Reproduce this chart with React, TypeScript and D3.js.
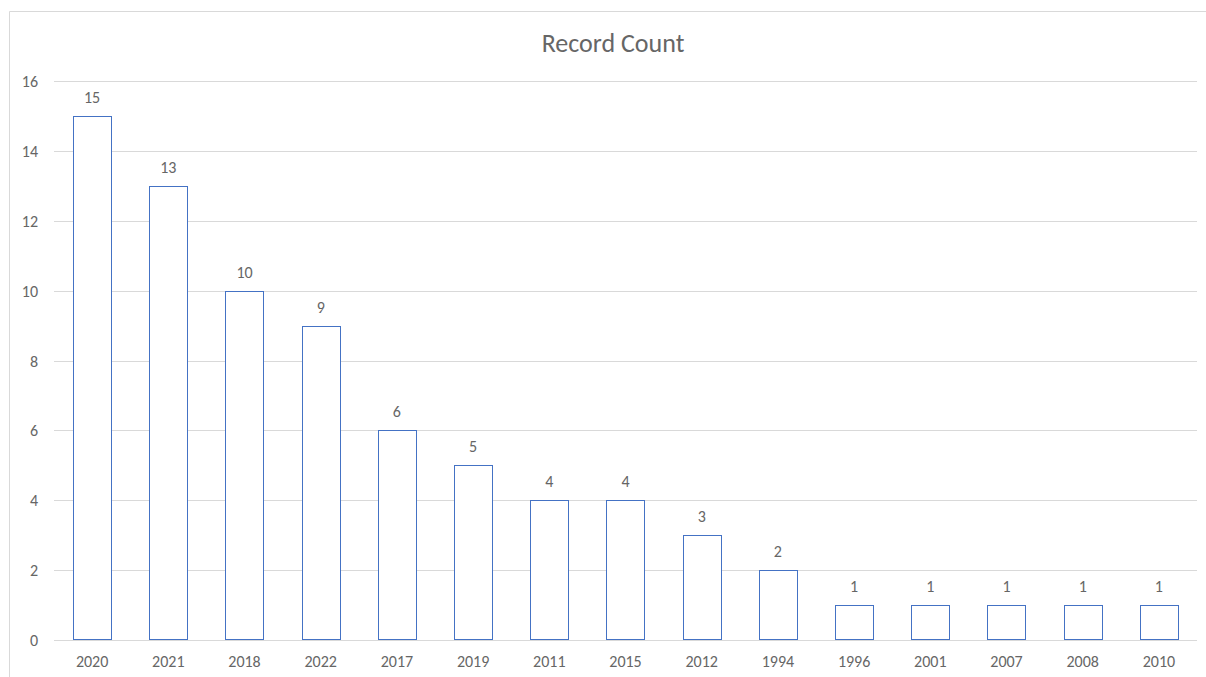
import React from 'react';
import * as d3 from 'd3';

// data
const years = ['2020', '2021', '2018', '2022', '2017', '2019', '2011', '2015', '2012', '1994', '1996', '2001', '2007', '2008', '2010'];
const counts = [15, 13, 10, 9, 6, 5, 4, 4, 3, 2, 1, 1, 1, 1, 1];
const yTicks = [0, 2, 4, 6, 8, 10, 12, 14, 16];

const width = 1206;
const height = 677;
const margin = { top: 81, right: 9, bottom: 37, left: 54 };
const font = 'Carlito, Calibri, "Open Sans", sans-serif';
const textColor = '#666666';

export default function App() {
  const plotW = width - margin.left - margin.right;
  const plotH = height - margin.top - margin.bottom;

  const x = d3.scaleBand().domain(years).range([0, plotW]).paddingInner(0.5).paddingOuter(0.25);
  const y = d3.scaleLinear().domain([0, 16]).range([plotH, 0]);

  return (
    <svg
      width={width}
      height={height}
      style={{ position: 'absolute', left: 0, top: 0, background: '#fff', overflow: 'hidden' }}
    >
      {/* chart border: only top and left edges are on the page */}
      <line x1={9.5} x2={width} y1={11.5} y2={11.5} stroke="#d9d9d9" />
      <line x1={9.5} x2={9.5} y1={11.5} y2={height} stroke="#d9d9d9" />
      <text x={613} y={52} textAnchor="middle" fontFamily={font} fontSize={26} fill={textColor}>
        Record Count
      </text>
      <g transform={`translate(${margin.left},${margin.top})`}>
        {yTicks.map(t => (
          <g key={t}>
            <line x1={0} x2={plotW} y1={Math.round(y(t)) + 0.5} y2={Math.round(y(t)) + 0.5} stroke="#d9d9d9" />
            <text x={-16} y={y(t) + 6} textAnchor="end" fontFamily={font} fontSize={16} fill={textColor}>
              {t}
            </text>
          </g>
        ))}
        {years.map((yr, i) => (
          <g key={yr}>
            <rect
              x={Math.round(x(yr)!) + 0.5}
              y={Math.round(y(counts[i])) + 0.5}
              width={Math.round(x.bandwidth())}
              height={Math.round(plotH - y(counts[i])) - 1}
              fill="white"
              stroke="#4472c4"
            />
            <text
              x={x(yr)! + x.bandwidth() / 2}
              y={y(counts[i]) - 13}
              textAnchor="middle"
              fontFamily={font}
              fontSize={16}
              fill={textColor}
            >
              {counts[i]}
            </text>
            <text
              x={x(yr)! + x.bandwidth() / 2}
              y={plotH + 27}
              textAnchor="middle"
              fontFamily={font}
              fontSize={16}
              fill={textColor}
            >
              {yr}
            </text>
          </g>
        ))}
      </g>
    </svg>
  );
}
